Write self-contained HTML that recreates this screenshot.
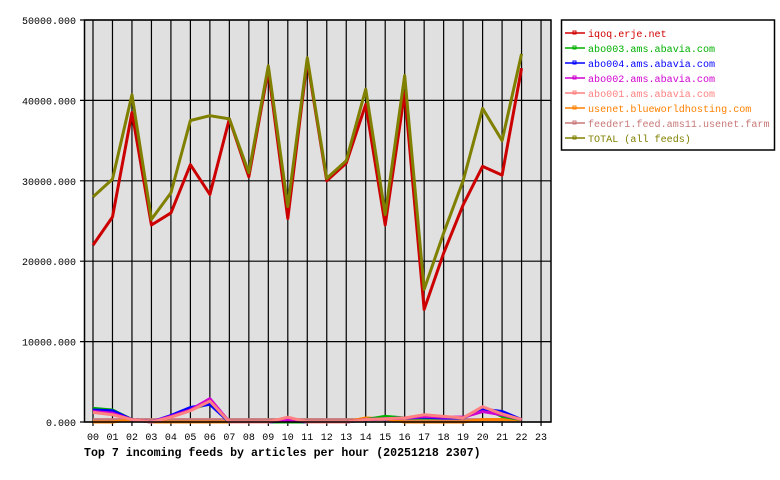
<!DOCTYPE html>
<html><head><style>body{margin:0;background:#fff}svg{display:block}</style></head>
<body>
<svg width="780" height="480" xmlns="http://www.w3.org/2000/svg" font-family="Liberation Mono, DejaVu Sans Mono, monospace">
<rect x="84.5" y="20" width="466.5" height="402" fill="#e0e0e0"/>
<g stroke="#000" stroke-width="1.2" id="grid"></g>
<g id="series" fill="none" stroke-width="3" stroke-linejoin="round"></g>
<rect x="84.5" y="20" width="466.5" height="402" fill="none" stroke="#000" stroke-width="1.5"/>
<g id="labels" font-size="10" fill="#000"></g>
<text x="84" y="456" font-size="11.6" font-weight="bold">Top 7 incoming feeds by articles per hour (20251218 2307)</text>
<rect x="561.5" y="20" width="213" height="130" fill="#fff" stroke="#000" stroke-width="1.5"/>
<g id="legend" font-size="10"></g>
<script>
const NS="http://www.w3.org/2000/svg";
const X=i=>93+19.48*i, Y=v=>422-v*0.00804;
function el(p,t,a,txt){const e=document.createElementNS(NS,t);for(const k in a)e.setAttribute(k,a[k]);if(txt!==undefined)e.textContent=txt;document.getElementById(p).appendChild(e);}
for(let i=0;i<24;i++){el('grid','line',{x1:X(i),x2:X(i),y1:20,y2:426});el('labels','text',{x:X(i),y:440,'text-anchor':'middle'},String(i).padStart(2,'0'));}
for(let k=0;k<=5;k++){const y=Y(k*10000);el('grid','line',{x1:80,x2:551,y1:y,y2:y});el('labels','text',{x:76,y:y+4,'text-anchor':'end'},(k*10000)+'.000');}
const S=[
["#c87878",[300,300,300,300,300,300,300,300,300,300,300,300,300,300,300,300,300,300,300,300,300,300,300]],
["#ff8000",[0,0,300,0,0,0,0,0,0,0,0,0,0,0,500,400,0,0,0,0,300,300,300]],
["#00b000",[1700,1500,300,0,700,1600,2300,0,0,0,0,0,0,0,300,700,500,500,500,500,1800,700,300]],
["#0000ff",[1500,1400,300,0,800,1800,2200,0,0,0,200,0,0,0,300,400,500,600,500,500,1600,1300,300]],
["#d000d0",[1300,1100,300,0,700,1500,2900,0,0,0,300,0,0,0,300,400,500,700,600,600,1300,900,300]],
["#ff8080",[1200,900,300,0,600,1400,2600,0,0,0,600,0,0,0,300,400,500,900,700,500,1900,1000,300]],
["#cc0000",[22000,25500,38500,24500,26000,32000,28300,37700,30500,43800,25300,45000,30000,32200,39500,24500,41000,14000,21000,27000,31800,30700,44000]],
["#808000",[28000,30200,40700,25200,28500,37500,38100,37700,31000,44300,26800,45300,30300,32500,41400,25800,43100,16500,23500,30000,39000,35000,45800]]
];
S.forEach(([c,d])=>{el('series','polyline',{stroke:c,points:d.map((v,i)=>X(i)+','+Y(v)).join(' ')});});
const L=[["#d00000","iqoq.erje.net"],["#00b000","abo003.ams.abavia.com"],["#0000ff","abo004.ams.abavia.com"],["#d000d0","abo002.ams.abavia.com"],["#ff8080","abo001.ams.abavia.com"],["#ff8000","usenet.blueworldhosting.com"],["#c87878","feeder1.feed.ams11.usenet.farm"],["#808000","TOTAL (all feeds)"]];
L.forEach(([c,t],i)=>{const y=33+15*i;el('legend','line',{x1:565,x2:585,y1:y,y2:y,stroke:c,'stroke-width':1.5});el('legend','rect',{x:573,y:y-2,width:3,height:3,fill:'none',stroke:c,'stroke-width':1});el('legend','text',{x:588,y:y+4,fill:c,textLength:t.length*6.05,lengthAdjust:'spacingAndGlyphs'},t);});
</script>
</svg>
</body></html>
